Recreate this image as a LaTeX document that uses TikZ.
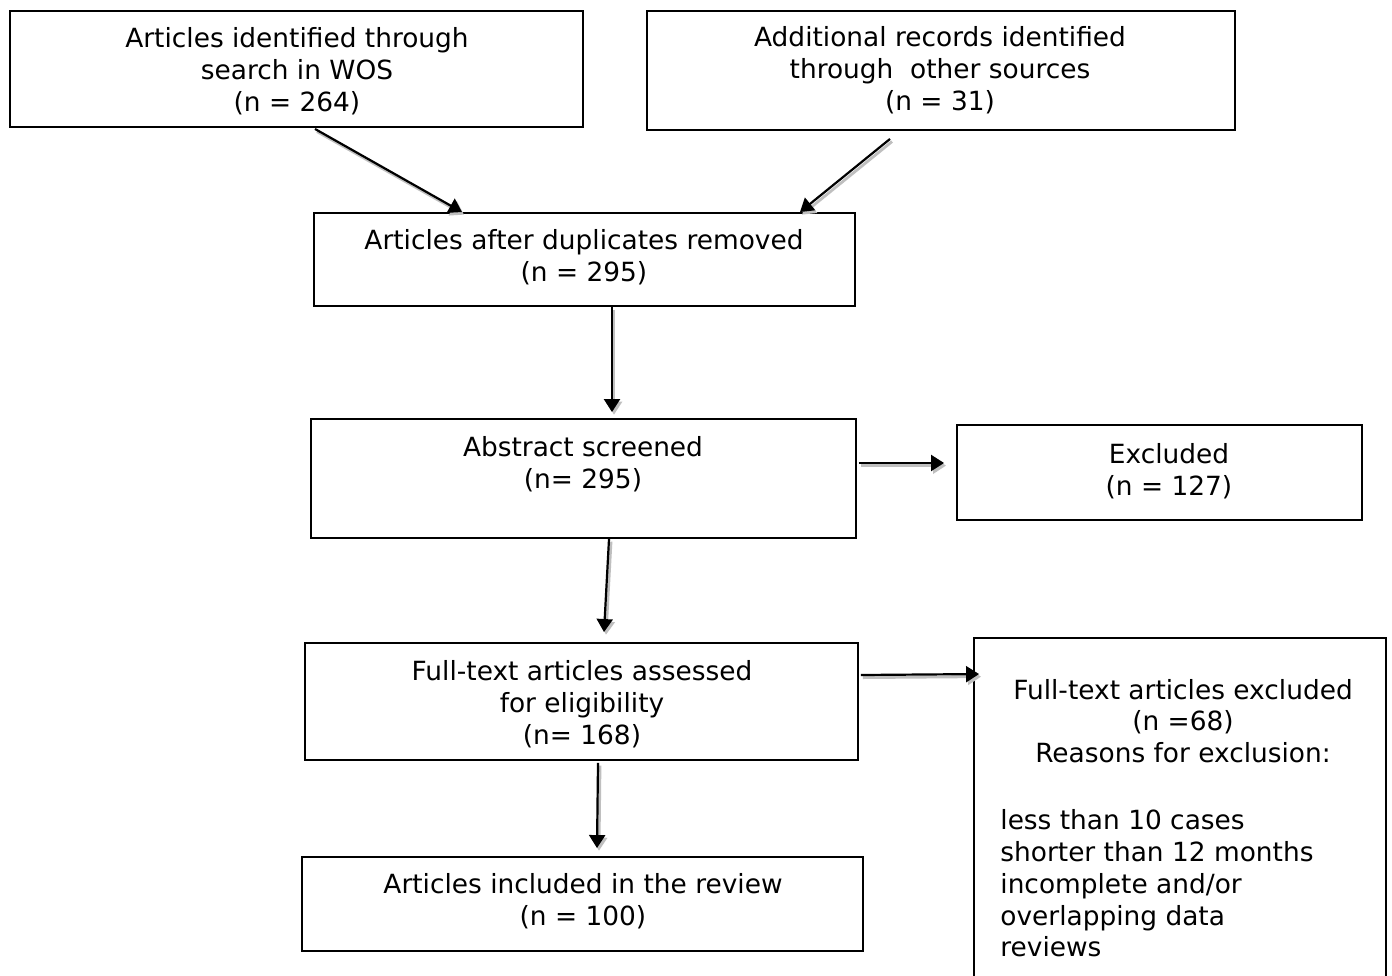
\documentclass[tikz,border=0pt]{standalone}
\usepackage{fontspec}
\setmainfont{DejaVu Sans}
\usetikzlibrary{arrows.meta,calc}
\begin{document}
\begin{tikzpicture}[x=0.5pt,y=-0.5pt,
  box/.style={draw=black,line width=0.95pt,rectangle,inner sep=0pt},
  txt/.style={align=center,inner sep=0pt,font=\fontsize{13.2pt}{15.9pt}\selectfont},
  arr/.style={-{Triangle[length=6.5pt,width=8pt]},line width=1.1pt,
    preaction={draw=black!25,line width=1.4pt,-{Triangle[length=6.5pt,width=8pt]},
      transform canvas={xshift=1pt,yshift=-1.3pt}}}]
\clip (0,0) rectangle (1392,975);
\useasboundingbox (0,0) rectangle (1392,975);
\fill[white] (0,0) rectangle (1392,975);
% boxes
\node[box,minimum width=286.5pt,minimum height=58pt] (b1) at (296.5,69) {};
\node[box,minimum width=294pt,minimum height=59.5pt] (b2) at (941,70.5) {};
\node[box,minimum width=270.5pt,minimum height=46.5pt] (b3) at (584.5,259.5) {};
\node[box,minimum width=272.5pt,minimum height=59.5pt] (b4) at (583.5,478.5) {};
\node[box,minimum width=202.5pt,minimum height=47.5pt] (b5) at (1159.5,472.5) {};
\node[box,minimum width=276.5pt,minimum height=58.5pt] (b6) at (581.5,701.5) {};
\node[box,minimum width=280.5pt,minimum height=47pt] (b7) at (582.5,904) {};
\node[box,minimum width=206pt,minimum height=180pt] (b8) at (1180,818) {};
% texts
\node[txt] (t1) at (297,71.5) {Articles identified through\\search in WOS\\(n = 264)};
\node[txt] (t2) at (940,70.5) {Additional records identified\\through\ \ other sources\\(n = 31)};
\node[txt] (t3) at (584,257.5) {Articles after duplicates removed\\(n = 295)};
\node[txt] (t4) at (583,464) {Abstract screened\\(n= 295)};
\node[txt] (t5) at (1169,471.5) {Excluded\\(n = 127)};
\node[txt] (t6) at (582,704.5) {Full-text articles assessed\\for eligibility\\(n= 168)};
\node[txt] (t7) at (583,901) {Articles included in the review\\(n = 100)};
\node[txt] (t8) at (1183,721) {Full-text articles excluded\\(n =68)\\Reasons for exclusion:};
\node[txt,align=left,anchor=west] (t9) at (1000,883.5) {less than 10 cases\\shorter than 12 months\\incomplete and/or\\overlapping data\\reviews};
% arrows
\draw[arr] ($(b1.south)+(18.5,1)$) -- ($(b3.north)+(-122.5,0)$);
\draw[arr] ($(b2.south)+(-51,8)$) -- ($(b3.north)+(215.5,0)$);
\draw[arr] ($(b3.south)+(27.5,0)$) -- ($(b4.north)+(28.5,-6)$);
\draw[arr] ($(b4.south)+(25.5,0)$) -- ($(b6.north)+(22.5,-10)$);
\draw[arr] ($(b6.south)+(16.5,2)$) -- ($(b7.north)+(14.5,-8)$);
\draw[arr] ($(b4.east)+(2,-15.5)$) -- ($(b5.west)+(-12,-9.5)$);
\draw[arr] ($(b6.east)+(2,-26.5)$) -- ($(b8.north west)+(6,37)$);
\end{tikzpicture}
\end{document}
